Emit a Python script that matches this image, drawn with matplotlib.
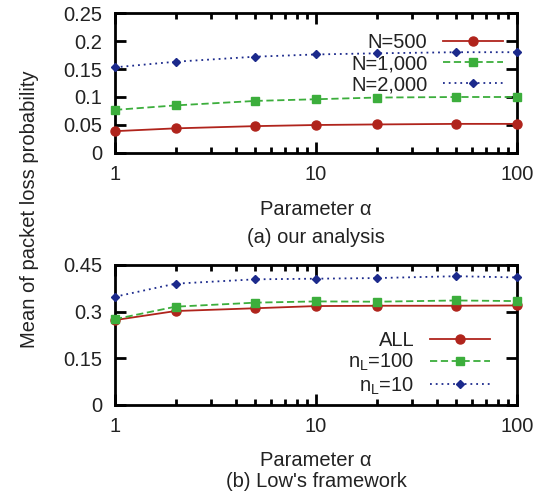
import numpy as np
import matplotlib
matplotlib.use('Agg')
import matplotlib.pyplot as plt
from matplotlib.ticker import LogLocator, NullFormatter

plt.rcParams['font.family'] = ['Liberation Sans', 'DejaVu Sans']
plt.rcParams['mathtext.fontset'] = 'custom'
plt.rcParams['mathtext.rm'] = 'Liberation Sans'
plt.rcParams['mathtext.it'] = 'Liberation Sans:italic'

# parameter alpha values (x axis, log scale)
alpha = [1, 2, 5, 10, 20, 50, 100]

# (a) our analysis
n500 = [0.039, 0.044, 0.048, 0.050, 0.051, 0.052, 0.052]
n1000 = [0.077, 0.085, 0.093, 0.096, 0.099, 0.100, 0.100]
n2000 = [0.153, 0.163, 0.172, 0.176, 0.178, 0.180, 0.180]
labels_a = ['N=500', 'N=1,000', 'N=2,000']
yticks_a = [0, 0.05, 0.1, 0.15, 0.2, 0.25]
yticklabels_a = ['0', '0.05', '0.1', '0.15', '0.2', '0.25']

# (b) Low's framework
all_b = [0.273, 0.302, 0.311, 0.318, 0.319, 0.319, 0.320]
nl100 = [0.276, 0.316, 0.329, 0.333, 0.332, 0.336, 0.334]
nl10 = [0.348, 0.390, 0.404, 0.406, 0.408, 0.414, 0.410]
labels_b = ['ALL', r'n$_\mathregular{L}$=100', r'n$_\mathregular{L}$=10']
yticks_b = [0, 0.15, 0.3, 0.45]
yticklabels_b = ['0', '0.15', '0.3', '0.45']

xticks = [1, 10, 100]
xticklabels = ['1', '10', '100']

red = '#b0241c'
green = '#3cae3c'
blue = '#1c2a8c'
txt = '#222222'
fs = 14.5

W, H = 547, 492
fig = plt.figure(figsize=(W / 100, H / 100), dpi=100)

ax_a = fig.add_axes([115 / W, 1 - 153 / H, 402 / W, 140 / H])
ax_b = fig.add_axes([115 / W, 1 - 405 / H, 402 / W, 140 / H])


def style_axes(ax, yticks, yticklabels, ymax):
    ax.set_xscale('log')
    ax.set_xlim(1, 100)
    ax.set_ylim(0, ymax)
    ax.set_xticks(xticks)
    ax.set_xticklabels(xticklabels)
    ax.xaxis.set_minor_locator(LogLocator(base=10, subs=np.arange(2, 10)))
    ax.xaxis.set_minor_formatter(NullFormatter())
    ax.set_yticks(yticks)
    ax.set_yticklabels(yticklabels)
    ax.tick_params(which='both', direction='in', top=True, right=True,
                   width=2, colors='black', labelcolor=txt, labelsize=fs)
    ax.tick_params(which='major', length=8)
    ax.tick_params(which='minor', length=4)
    ax.tick_params(axis='x', pad=9)
    ax.tick_params(axis='y', pad=9)
    for sp in ax.spines.values():
        sp.set_linewidth(2)


def draw(ax, ys, labels):
    styles = [('-', 'o', red, 6.5), ((0, (4, 2)), 's', green, 6),
              ((0, (1, 2.2)), 'D', blue, 4.5)]
    for y, lab, (ls, mk, c, ms) in zip(ys, labels, styles):
        ax.plot(alpha, y, linestyle=ls, marker=mk, color=c, markersize=ms,
                linewidth=1.3, label=lab, clip_on=False, zorder=3)


draw(ax_a, [n500, n1000, n2000], labels_a)
style_axes(ax_a, yticks_a, yticklabels_a, 0.25)
ax_a.legend(loc='upper right', bbox_to_anchor=(1 - 14 / 402, 1 - 20 / 140),
            frameon=False, markerfirst=False, fontsize=fs, handlelength=3.0,
            handletextpad=0.75, labelspacing=0.1, borderpad=0,
            borderaxespad=0, labelcolor=txt)

draw(ax_b, [all_b, nl100, nl10], labels_b)
style_axes(ax_b, yticks_b, yticklabels_b, 0.45)
ax_b.legend(loc='upper right', bbox_to_anchor=(1 - 27 / 402, 1 - 66 / 140),
            frameon=False, markerfirst=False, fontsize=fs, handlelength=3.0,
            handletextpad=0.75, labelspacing=0.1, borderpad=0,
            borderaxespad=0, labelcolor=txt)

cx = (115 + 517) / 2 / W
fig.text(cx, 1 - 215 / H, 'Parameter α', ha='center', va='baseline',
         fontsize=fs, color=txt)
fig.text(cx, 1 - 243 / H, '(a) our analysis', ha='center', va='baseline',
         fontsize=fs, color=txt)
fig.text(cx, 1 - 466 / H, 'Parameter α', ha='center', va='baseline',
         fontsize=fs, color=txt)
fig.text(cx, 1 - 487 / H, "(b) Low's framework", ha='center', va='baseline',
         fontsize=fs, color=txt)
fig.text(30 / W, 1 - 209 / H, 'Mean of packet loss probability', rotation=90,
         ha='center', va='center', fontsize=fs, color=txt)

fig.savefig('out.png', dpi=100)
